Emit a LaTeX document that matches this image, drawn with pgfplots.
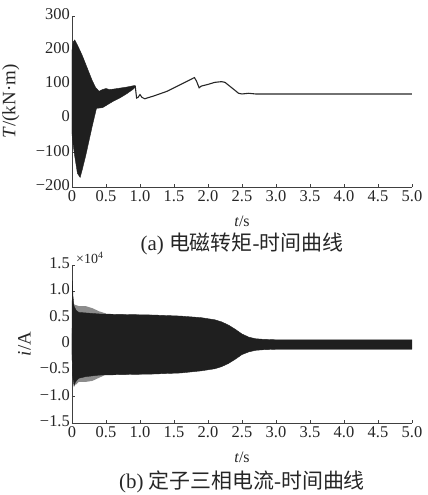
\documentclass[border=0pt]{standalone}
\usepackage{fontspec}
\setmainfont{Liberation Serif}
\newfontfamily\cjk{Noto Sans CJK SC}
\usepackage{pgfplots}
\pgfplotsset{compat=1.18}
\begin{document}
\fontsize{15}{18}\selectfont
\begin{tikzpicture}
\path[use as bounding box] (-72bp,-72bp) rectangle (356bp,423bp);
\pgfplotsset{
  every axis/.append style={
    scale only axis, width=340bp,
    axis lines=left, axis line style={-, black!75, line width=0.8pt},
    tick style={black!75, line width=0.7pt}, tick align=inside,
    major tick length=3bp,
    xmin=0, xmax=5,
    xtick={0,0.5,1,1.5,2,2.5,3,3.5,4,4.5,5},
    xticklabels={0,0.5,1.0,1.5,2.0,2.5,3.0,3.5,4.0,4.5,5.0},
    /pgf/number format/assume math mode=true,
    tick label style={font=\fontsize{16.5}{18}\selectfont, black!85},
    yticklabel style={inner sep=2bp, yshift=2bp},
    xticklabel style={inner sep=2bp, yshift=-1bp},
    label style={font=\fontsize{19}{21}\selectfont, black!85},
    xlabel={\textit{t}/s},
    xlabel style={at={(axis description cs:0.5,0)}, anchor=center, yshift=-34bp,
      font=\fontsize{16}{18}\selectfont},
    clip=false,
  }
}
% ---------- bottom: current ----------
\begin{axis}[at={(0,0)}, anchor=south west, height=158bp,
  ymin=-1.5, ymax=1.5,
  ytick={-1.5,-1,-0.5,0,0.5,1,1.5},
  yticklabels={−1.5,−1.0,−0.5,0,0.5,1.0,1.5},
  ylabel={\textit{i}/A},
  ylabel style={at={(axis description cs:-0.14,0.5)}, anchor=center},
]
% fuzzy start region
\addplot[fill=black!45, draw=none] coordinates {
(0,0.2) (0.03,0.75) (0.1,0.72) (0.2,0.72) (0.3,0.68) (0.4,0.62) (0.5,0.58)
(0.5,-0.58) (0.4,-0.64) (0.3,-0.7) (0.2,-0.72) (0.1,-0.72) (0.05,-0.78) (0,-0.3)
} --cycle;
% main envelope of the three phase currents
\addplot[fill=black!88, draw=black!88, line width=0.4pt] coordinates {
(0,0.3) (0.005,1.2) (0.015,0.9) (0.03,0.72) (0.06,0.64) (0.1,0.6) (0.2,0.59)
(0.3,0.58) (0.4,0.57) (0.8,0.56) (1.2,0.55) (1.6,0.53) (1.9,0.5) (2.1,0.46)
(2.2,0.42) (2.3,0.36) (2.4,0.28) (2.5,0.19) (2.6,0.13) (2.7,0.1) (2.8,0.09)
(3,0.08) (5,0.08)
(5,-0.1) (3,-0.1) (2.8,-0.11) (2.7,-0.12) (2.6,-0.15) (2.5,-0.2) (2.4,-0.29)
(2.3,-0.37) (2.2,-0.43) (2.1,-0.47) (1.9,-0.51) (1.6,-0.55) (1.2,-0.57)
(0.8,-0.58) (0.4,-0.59) (0.2,-0.62) (0.1,-0.65) (0.05,-0.72) (0.03,-0.8)
(0.01,-0.6) (0,-0.2)
} --cycle;
\node[anchor=south west, inner sep=0pt, font=\fontsize{14}{16}\selectfont, black!85]
  at (rel axis cs:0,1) [xshift=4bp, yshift=1bp] {×10\textsuperscript{4}};
\node[font=\fontsize{21}{24}\selectfont, black!85] at (rel axis cs:0.5,0) [yshift=-59bp]
  {(b) {\cjk 定子三相电流}-{\cjk 时间曲线}};
\end{axis}
% ---------- top: torque ----------
\begin{axis}[at={(0,236bp)}, anchor=south west, height=171bp,
  ymin=-200, ymax=300,
  ytick={-200,-100,0,100,200,300},
  yticklabels={−200,−100,0,100,200,300},
  ylabel={\textit{T}/(kN·m)},
  ylabel style={at={(axis description cs:-0.18,0.5)}, anchor=center},
]
\addplot[fill=black!88, draw=black!88, line width=0.4pt] coordinates {
(0,200) (0.02,225) (0.04,230) (0.08,215) (0.15,185) (0.2,160) (0.25,135)
(0.3,110) (0.35,90) (0.4,80) (0.45,85) (0.5,88) (0.55,85) (0.6,86) (0.7,89)
(0.8,92) (0.9,96) (0.93,97)
(0.93,92) (0.9,86) (0.8,72) (0.7,60) (0.6,50) (0.5,38) (0.45,32) (0.36,30)
(0.3,-20) (0.25,-65) (0.2,-110) (0.15,-150) (0.12,-172) (0.08,-160)
(0.04,-110) (0.02,-80) (0,-45)
} --cycle;
\addplot[black!85, line width=1.1pt] coordinates {
(0.93,95) (0.95,60) (0.97,62) (1.0,70) (1.03,62) (1.07,58) (1.1,60) (1.2,66)
(1.4,80) (1.6,100) (1.8,120) (1.83,110) (1.87,90) (1.9,95) (2.0,100)
(2.1,106) (2.2,108) (2.25,106) (2.35,90) (2.45,74) (2.5,72) (2.6,74)
(2.7,72) (3,72) (5,72)
};
\node[font=\fontsize{21}{24}\selectfont, black!85] at (rel axis cs:0.5,0) [yshift=-57bp]
  {(a) {\cjk 电磁转矩}-{\cjk 时间曲线}};
\end{axis}
\end{tikzpicture}
\end{document}
